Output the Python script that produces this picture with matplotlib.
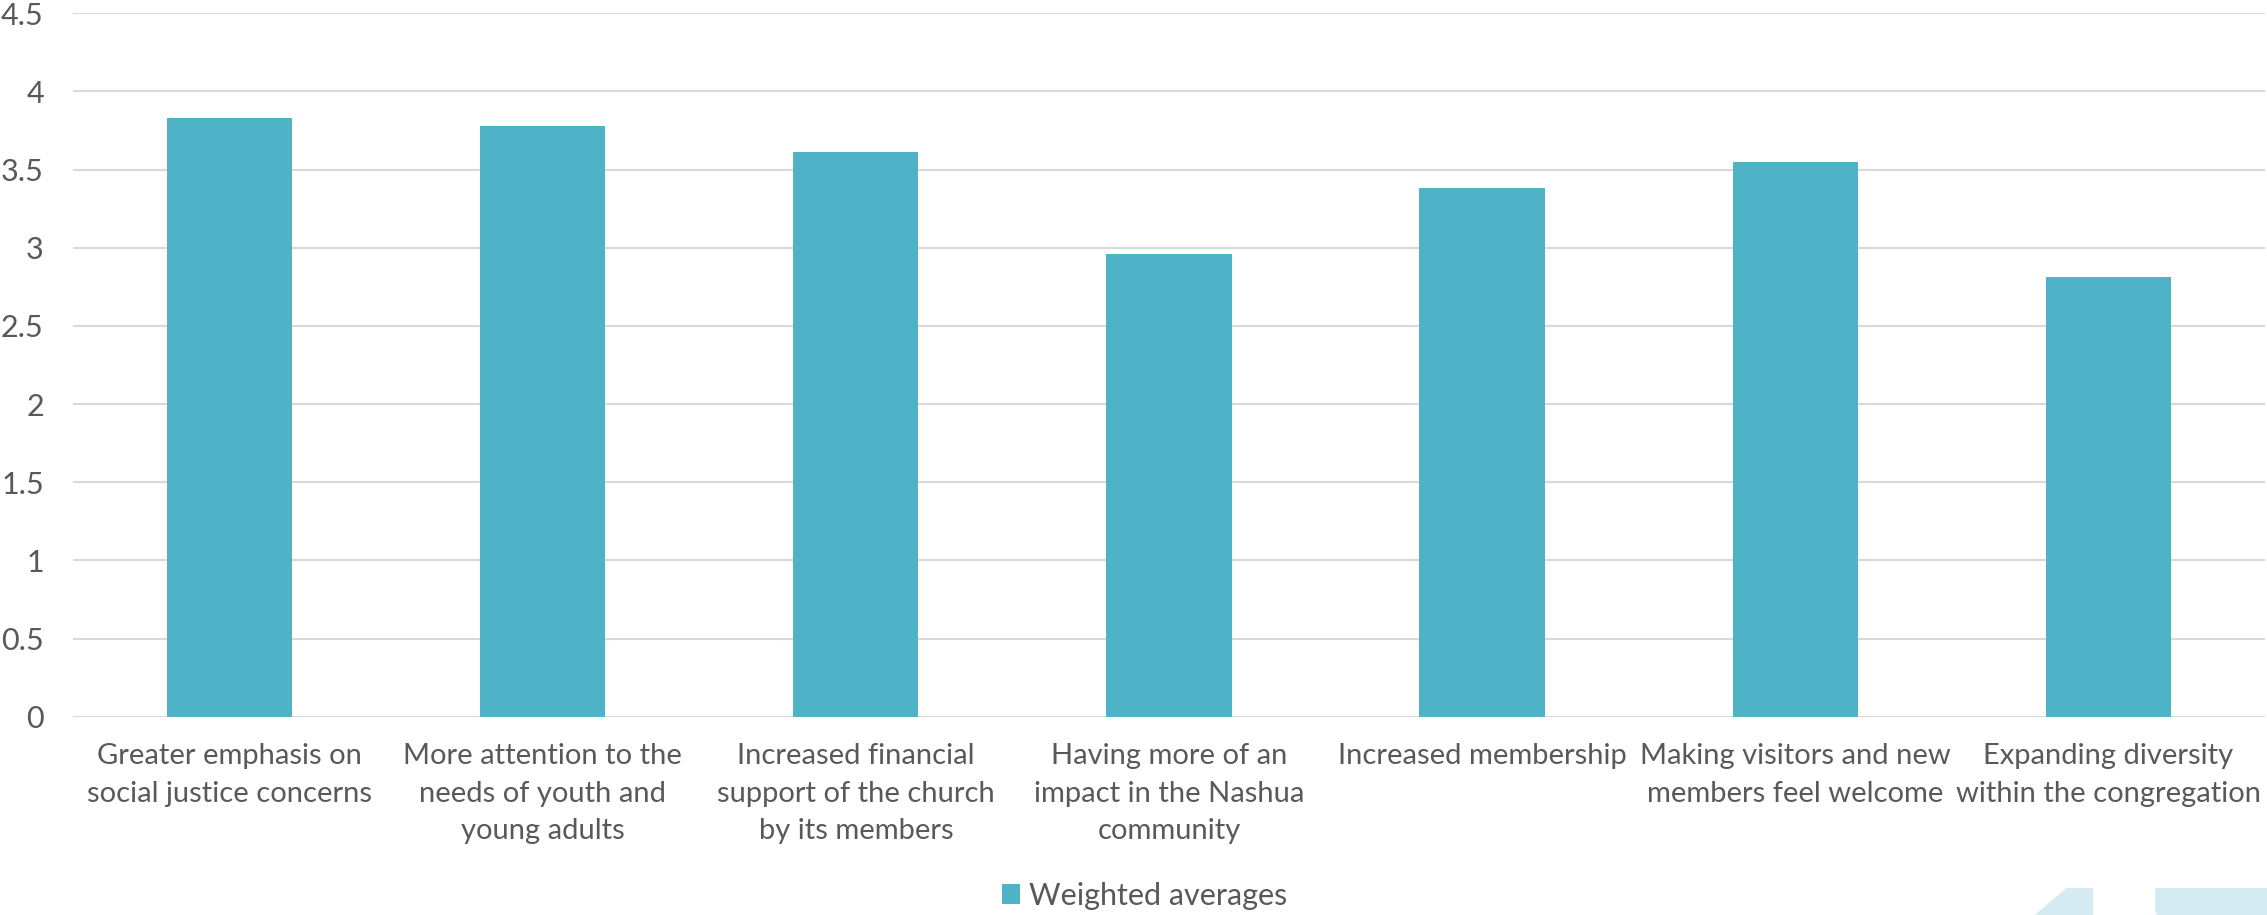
import matplotlib

matplotlib.use("Agg")
import matplotlib.pyplot as plt

# values
categories = [
    "Greater emphasis on\nsocial justice concerns",
    "More attention to the\nneeds of youth and\nyoung adults",
    "Increased financial\nsupport of the church\nby its members",
    "Having more of an\nimpact in the Nashua\ncommunity",
    "Increased membership",
    "Making visitors and new\nmembers feel welcome",
    "Expanding diversity\nwithin the congregation",
]
weighted_averages = [3.83, 3.78, 3.61, 2.96, 3.38, 3.55, 2.81]
y_ticks = [0, 0.5, 1, 1.5, 2, 2.5, 3, 3.5, 4, 4.5]
y_tick_labels = ["0", "0.5", "1", "1.5", "2", "2.5", "3", "3.5", "4", "4.5"]

BAR_COLOR = "#4FB3C8"
TEXT_COLOR = "#595959"
GRID_COLOR = "#D9D9D9"

plt.rcParams["font.family"] = ["Lato", "DejaVu Sans"]

fig = plt.figure(figsize=(22.67, 9.15), dpi=100)
ax = fig.add_axes([0.0322, 0.2167, 0.9669, 0.7688])

x = range(len(categories))
ax.bar(x, weighted_averages, width=0.4, color=BAR_COLOR, label="Weighted averages", zorder=3)

ax.set_xlim(-0.5, len(categories) - 0.5)
ax.set_ylim(0, 4.5)
ax.set_yticks(y_ticks)
ax.set_yticklabels(y_tick_labels)
ax.set_xticks(list(x))
ax.set_xticklabels(categories, linespacing=1.55)

ax.grid(axis="y", color=GRID_COLOR, linewidth=1.5, zorder=0)
ax.set_axisbelow(True)
for spine in ax.spines.values():
    spine.set_visible(False)

ax.tick_params(axis="y", length=0, pad=21, labelsize=22, labelcolor=TEXT_COLOR)
ax.tick_params(axis="x", length=0, pad=19, labelsize=21, labelcolor=TEXT_COLOR)

leg = fig.legend(
    loc="center",
    bbox_to_anchor=(0.505, 0.021),
    frameon=False,
    handlelength=0.6,
    handleheight=0.6,
    handletextpad=0.3,
    prop={"size": 22},
)
for t in leg.get_texts():
    t.set_color(TEXT_COLOR)

# faded page number in the corner, mostly cut off by the page edge
fig.text(0.878, 0.035, "17", fontsize=190, fontweight="bold", color="#D4EBF1",
         ha="left", va="top", zorder=0)

fig.savefig("out.png", dpi=100)
